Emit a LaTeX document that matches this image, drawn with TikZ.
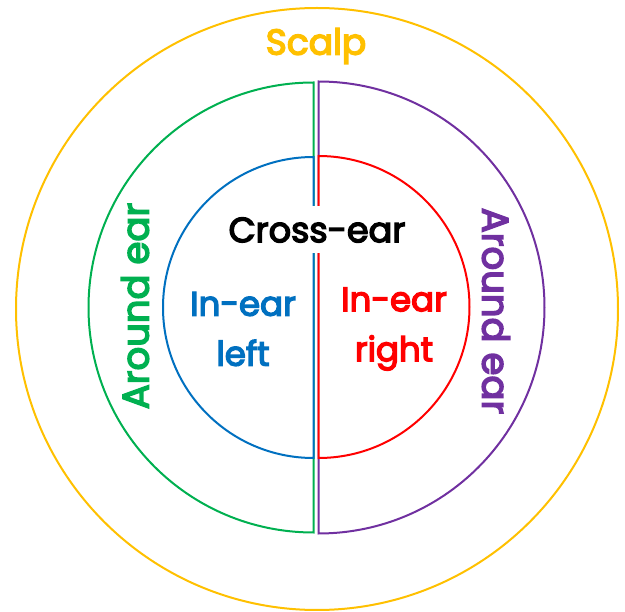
\documentclass[tikz,border=0pt]{standalone}
\usepackage{fontspec}
\setmainfont{Poppins}
\newfontfamily\lblfont{Poppins}[FakeBold=4]
\definecolor{cyellow}{HTML}{FFC000}
\definecolor{cgreen}{HTML}{00B050}
\definecolor{cpurple}{HTML}{7030A0}
\definecolor{cblue}{HTML}{0070C0}
\definecolor{cred}{HTML}{FF0000}
\begin{document}
\begin{tikzpicture}[x=1pt,y=-1pt,line width=2pt,
  lbl/.style={font=\lblfont\fontsize{#1}{50}\selectfont,inner sep=0pt,align=center},
  lbl/.default=33]
\useasboundingbox (0,0) rectangle (625,612);
\draw[cyellow] (317,309) circle (301pt);
\draw[cgreen] (313.5,82.5) arc[start angle=90,end angle=270,radius=225pt] -- cycle;
\draw[cpurple] (318.5,81.5) arc[start angle=90,end angle=-90,radius=226pt] -- cycle;
\draw[cblue,fill=white] (313.5,157) arc[start angle=90,end angle=270,radius=150.5pt] -- cycle;
\draw[cred,fill=white] (318.5,156) arc[start angle=90,end angle=-90,radius=151pt] -- cycle;
\node[lbl=36,text=cyellow] (scalp) at (316,46) {Scalp};
\node[lbl=35,fill=white,minimum height=47pt,inner xsep=4pt] (cross) at (317,230) {Cross-ear};
\node[lbl=34,text=cblue] (inl) at (243,329) {In-ear\\left};
\node[lbl=34,text=cred] (inr) at (394,329) {In-ear\\right};
\node[lbl=37,text=cgreen,rotate=90] (arl) at (135,306) {Around ear};
\node[lbl=37,text=cpurple,rotate=-90] (arr) at (496,311) {Around ear};
\end{tikzpicture}
\end{document}
